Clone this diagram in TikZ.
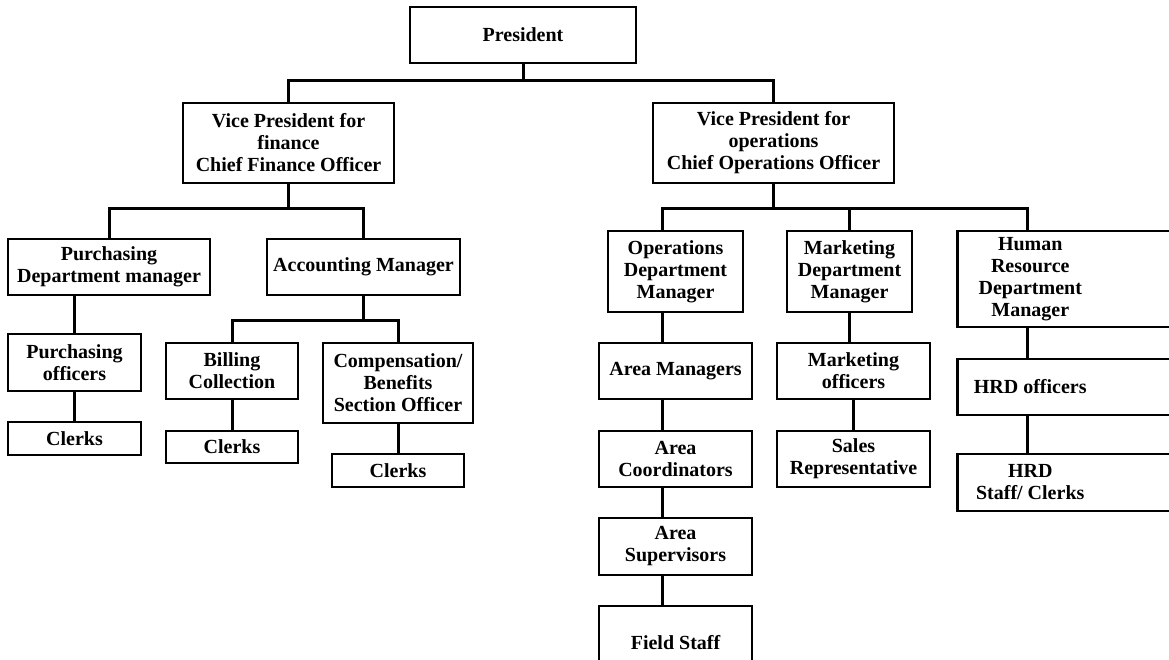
\documentclass[tikz,border=0pt]{standalone}
\usepackage{fontspec}
\setmainfont{Liberation Serif}
\usepackage{tikz}
\tikzstyle{post} = [
    draw=black,
    line width=2.5pt,
    fill=white,
    inner sep=2pt,
    align=center,
    font=\fontsize{20}{22}\selectfont\bfseries
]
\tikzstyle{hrpost} = [
    post,
    anchor=west
]
\tikzstyle{conn} = [
    draw=black,
    line width=3pt
]
\newcommand{\hrtext}[1]{\makebox[224pt][l]{\parbox{142pt}{\centering #1}}}

\begin{document}
\begin{tikzpicture}[x=1pt, y=-1pt]
        \useasboundingbox (0,0) rectangle (1169,660);

        % Top of the chart
        \node[post, minimum width=226, minimum height=56] (pres) at (523,35) {President};
        \node[post, minimum width=211, minimum height=80] (vpf) at (288.5,143) {Vice President for\\finance\\Chief Finance Officer};
        \node[post, minimum width=241, minimum height=80] (vpo) at (773.5,143) {Vice President for\\operations\\Chief Operations Officer};

        % Finance side
        \node[post, minimum width=202, minimum height=56] (pdm) at (109,267) {Purchasing\\Department manager};
        \node[post, minimum width=193, minimum height=56] (acm) at (363.5,267) {Accounting Manager};
        \node[post, minimum width=133, minimum height=57] (pof) at (74.5,362.5) {Purchasing\\officers};
        \node[post, minimum width=133, minimum height=33] (clk1) at (74.5,438.5) {Clerks};
        \node[post, minimum width=132, minimum height=56] (bil) at (232,371) {Billing\\Collection};
        \node[post, minimum width=132, minimum height=32] (clk2) at (232,447) {Clerks};
        \node[post, minimum width=150, minimum height=80] (cmp) at (398,383) {Compensation/\\Benefits\\Section Officer};
        \node[post, minimum width=132, minimum height=33] (clk3) at (398,470.5) {Clerks};

        % Operations side
        \node[post, minimum width=135, minimum height=81] (odm) at (675.5,271.5) {Operations\\Department\\Manager};
        \node[post, minimum width=125, minimum height=81] (mdm) at (849.5,271.5) {Marketing\\Department\\Manager};
        \node[hrpost, minimum height=96] (hrm) at (956,279) {\hrtext{Human\\Resource\\Department\\Manager}};
        \node[post, minimum width=153, minimum height=56] (am) at (675.5,371) {Area Managers};
        \node[post, minimum width=153, minimum height=56] (ac) at (675.5,459) {Area\\Coordinators};
        \node[post, minimum width=153, minimum height=57] (as) at (675.5,546.5) {Area\\Supervisors};
        \node[post, minimum width=153, minimum height=74] (fs) at (675.5,643) {Field Staff};
        \node[post, minimum width=153, minimum height=56] (mo) at (853.5,371) {Marketing\\officers};
        \node[post, minimum width=153, minimum height=56] (sr) at (853.5,459) {Sales\\Representative};
        \node[hrpost, minimum height=56] (hro) at (956,387) {\hrtext{HRD officers}};
        \node[hrpost, minimum height=57] (hrs) at (956,482.5) {\hrtext{HRD\\Staff/ Clerks}};

        % President to vice presidents
        \draw[conn] (pres.south) -- ++(0,16) coordinate (b0);
        \draw[conn] (vpf.north) |- (b0) -| (vpo.north);

        % Finance lines
        \draw[conn] (vpf.south) -- ++(0,24) coordinate (b1);
        \draw[conn] (pdm.north) |- (b1) -| (acm.north);
        \draw[conn] (pof.north |- pdm.south) -- (pof.north);
        \draw[conn] (pof) -- (clk1);
        \draw[conn] (acm.south) -- ++(0,24) coordinate (b2);
        \draw[conn] (bil.north) |- (b2) -| (cmp.north);
        \draw[conn] (bil) -- (clk2);
        \draw[conn] (cmp) -- (clk3);

        % Operations lines
        \draw[conn] (vpo.south) -- ++(0,24) coordinate (b3);
        \draw[conn] ([xshift=-13pt]odm.north) |- (b3) -| ([xshift=71pt]hrm.north west);
        \draw[conn] (b3 -| mdm.north) -- (mdm.north);
        \foreach \a/\b in {odm/am, am/ac, ac/as, as/fs}
            \draw[conn] ([xshift=-13pt]\a.south) -- ([xshift=-13pt]\b.north);
        \draw[conn] (mdm.south) -- (mdm.south |- mo.north);
        \draw[conn] (mo) -- (sr);
        \draw[conn] ([xshift=71pt]hrm.south west) -- ([xshift=71pt]hro.north west);
        \draw[conn] ([xshift=71pt]hro.south west) -- ([xshift=71pt]hrs.north west);
    \end{tikzpicture}
\end{document}
